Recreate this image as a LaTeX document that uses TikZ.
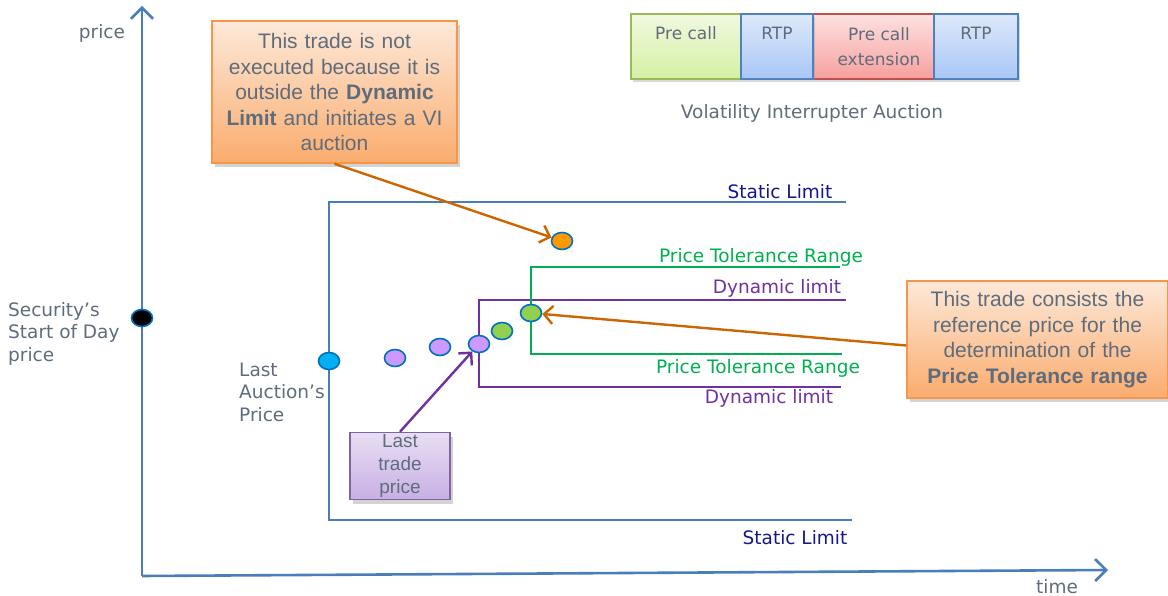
\documentclass[tikz,border=0pt]{standalone}
\usepackage{fontspec}
\setmainfont{Liberation Sans}
\newfontfamily\verd{DejaVu Sans}
\usetikzlibrary{arrows.meta,shapes.geometric,shadows}
\definecolor{axisblue}{RGB}{74,126,187}
\definecolor{txtgray}{RGB}{94,108,124}
\definecolor{navy}{RGB}{22,22,140}
\definecolor{ptrgreen}{RGB}{0,176,80}
\definecolor{dynpurple}{RGB}{112,48,160}
\definecolor{arrorange}{RGB}{204,102,0}
\definecolor{dotblue}{RGB}{0,112,192}
\definecolor{cyanfill}{RGB}{0,176,240}
\definecolor{lavfill}{RGB}{204,153,255}
\definecolor{grnfill}{RGB}{146,208,80}
\definecolor{orgfill}{RGB}{255,153,0}
\definecolor{obtop}{RGB}{253,233,217}
\definecolor{obbot}{RGB}{250,172,110}
\definecolor{obborder}{RGB}{247,150,70}
\definecolor{lvtop}{RGB}{232,222,244}
\definecolor{lvbot}{RGB}{200,176,228}
\definecolor{lvborder}{RGB}{128,100,162}
\definecolor{gtop}{RGB}{240,249,224}
\definecolor{gbot}{RGB}{214,240,164}
\definecolor{gborder}{RGB}{155,187,89}
\definecolor{btop}{RGB}{222,233,250}
\definecolor{bbot}{RGB}{168,198,246}
\definecolor{bborder}{RGB}{79,129,189}
\definecolor{rtop}{RGB}{253,225,225}
\definecolor{rbot}{RGB}{246,160,158}
\definecolor{rborder}{RGB}{192,80,77}
\tikzset{
  axis/.style={line width=2.6pt, color=axisblue, -{Straight Barb[length=11pt,width=22pt,line width=2.6pt]}},
  dot/.style={ellipse, draw=dotblue, line width=1.6pt, minimum width=21pt, minimum height=17pt, inner sep=0pt},
  vlabel/.style={font=\verd\fontsize{18.5}{22.5}\selectfont, text=txtgray, align=left, inner sep=0pt},
  limlabel/.style={font=\verd\fontsize{18.5}{22}\selectfont, inner sep=0pt},
  staticline/.style={line width=1.8pt, color=axisblue},
  dynline/.style={line width=1.8pt, color=dynpurple},
  ptrline/.style={line width=1.8pt, color=ptrgreen},
  callout/.style={rectangle, draw=obborder, line width=1.5pt, top color=obtop, bottom color=obbot,
    text=txtgray, align=center, font=\fontsize{21}{25.5}\selectfont, inner sep=2pt,
    drop shadow={opacity=0.35, shadow xshift=3pt, shadow yshift=-4pt}},
  ltbox/.style={rectangle, draw=lvborder, line width=1.5pt, top color=lvtop, bottom color=lvbot,
    text=txtgray, align=center, font=\fontsize{19}{23}\selectfont, inner sep=0pt,
    drop shadow={opacity=0.35, shadow xshift=3pt, shadow yshift=-4pt}},
  vibox/.style={rectangle, line width=1.5pt, minimum height=65pt, inner sep=0pt,
    drop shadow={opacity=0.3, shadow xshift=2pt, shadow yshift=-3pt}},
  vitext/.style={font=\verd\fontsize{17}{25}\selectfont, text=txtgray, align=center, inner sep=0pt},
  oarrow/.style={line width=2.4pt, color=arrorange, -{Straight Barb[length=9pt,width=18pt,line width=2.4pt]}},
  parrow/.style={line width=2.4pt, color=dynpurple, -{Straight Barb[length=9pt,width=18pt,line width=2.4pt]}}
}
\begin{document}
\begin{tikzpicture}[x=1pt,y=-1pt]
\useasboundingbox (0,0) rectangle (1168,596);
% axes
\coordinate (origin) at (142,576);
\coordinate (ytop) at (142,6);
\coordinate (xend) at (1108,570);
\draw[axis] (origin) -- (ytop);
\draw[axis] (origin) -- (xend);
\node[vlabel, anchor=center] (pricelab) at (102,33) {price};
\node[vlabel, anchor=base] (timelab) at (1057,593) {time};
% static limit frame
\coordinate (st1) at (846,202);
\coordinate (st2) at (329,202);
\coordinate (st3) at (329,520);
\coordinate (st4) at (852,520);
\draw[staticline] (st1) -- (st2) -- (st3) -- (st4);
\node[limlabel, text=navy] (stl1) at (780,192) {Static Limit};
\node[limlabel, text=navy] (stl2) at (795,538) {Static Limit};
% dynamic limit frame
\coordinate (dy1) at (846,300);
\coordinate (dy2) at (479,300);
\coordinate (dy3) at (479,387);
\coordinate (dy4) at (841,387);
\draw[dynline] (dy1) -- (dy2) -- (dy3) -- (dy4);
% price tolerance frame
\coordinate (pt1) at (840,267);
\coordinate (pt2) at (531,267);
\coordinate (pt3) at (531,354);
\coordinate (pt4) at (842,354);
\draw[ptrline] (pt1) -- (pt2) -- (pt3) -- (pt4);
\node[limlabel, text=ptrgreen] (ptl1) at (761,257) {Price Tolerance Range};
\node[limlabel, text=dynpurple] (dyl1) at (777,288) {Dynamic limit};
\node[limlabel, text=ptrgreen] (ptl2) at (758,368) {Price Tolerance Range};
\node[limlabel, text=dynpurple] (dyl2) at (769,398) {Dynamic limit};
% left labels
\node[vlabel, anchor=base west] (sod) at (8,361) {Security’s\\Start of Day\\price};
\node[vlabel, anchor=base west] (lap) at (239,421) {Last\\Auction’s\\Price};
% dots
\node[dot, fill=black] (sodd) at (142,318) {};
\node[dot, fill=cyanfill] (lad) at (329,361) {};
\node[dot, fill=lavfill] (p1) at (395,358) {};
\node[dot, fill=lavfill] (p2) at (440,347) {};
\node[dot, fill=lavfill] (p3) at (479,344) {};
\node[dot, fill=grnfill] (g1) at (502,331) {};
\node[dot, fill=grnfill] (g2) at (531,313) {};
\node[dot, fill=orgfill] (od) at (562,241) {};
% callouts
\node[callout, minimum width=245pt, minimum height=142pt, text width=240pt] (topbox) at (334.5,92)
  {This trade is not\\executed because it is\\outside the \textbf{Dynamic}\\\textbf{Limit} and initiates a VI\\auction};
\node[callout, minimum width=261pt, minimum height=117pt, text width=256pt] (rbox) at (1037.5,339.5)
  {This trade consists the\\reference price for the\\determination of the\\\textbf{Price Tolerance range}};
\node[ltbox, minimum width=100pt, minimum height=67pt, text width=98pt] (ltp) at (400,466)
  {Last\\trade\\price};
% connectors
\draw[oarrow] (topbox.south) -- (od);
\draw[oarrow] ([yshift=-6pt]rbox.west) -- (g2);
\draw[parrow] (ltp.north) -- (p3);
% VI auction boxes
\node[vibox, draw=gborder, top color=gtop, bottom color=gbot, minimum width=110pt] (vpc) at (686,46.5) {};
\node[vibox, draw=rborder, top color=rtop, bottom color=rbot, minimum width=121pt] (vpe) at (873.5,46.5) {};
\node[vibox, draw=bborder, top color=btop, bottom color=bbot, minimum width=72pt] (vr1) at (777,46.5) {};
\node[vibox, draw=bborder, top color=btop, bottom color=bbot, minimum width=84pt] (vr2) at (976,46.5) {};
\node[vitext, anchor=base] (tpc) at (686,40) {Pre call};
\node[vitext, anchor=base] (tr1) at (777,40) {RTP};
\node[vitext, anchor=base] (tpe) at (879,66) {Pre call\\extension};
\node[vitext, anchor=base] (tr2) at (976,40) {RTP};
\node[vlabel, anchor=center] (via) at (812,113) {Volatility Interrupter Auction};
\end{tikzpicture}
\end{document}
